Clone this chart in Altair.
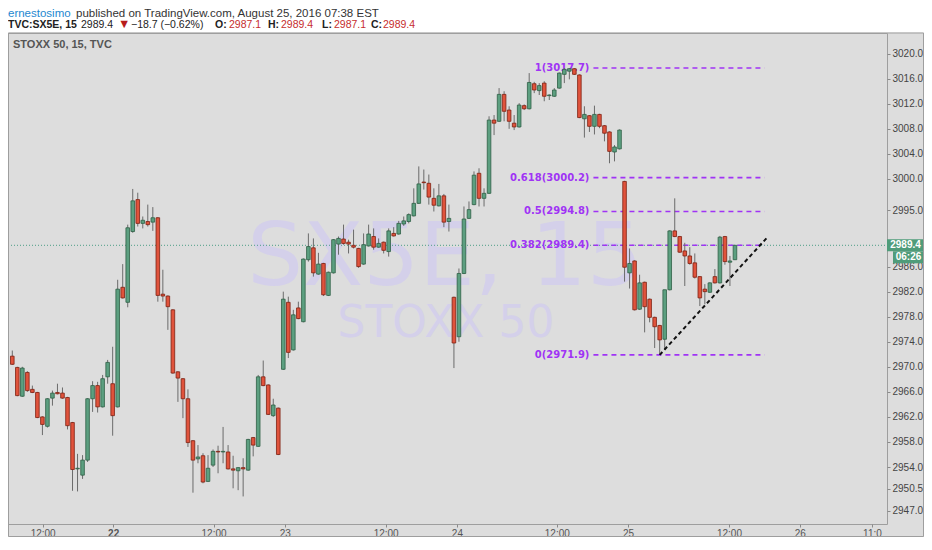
import altair as alt
import pandas as pd

# ---------------- data ----------------
opens = [
    2971.7, 2969.9, 2965.3, 2969.1, 2966.4, 2965.9, 2962.0, 2960.5, 2965.0, 2965.9,
    2965.8, 2965.1, 2961.1, 2953.7, 2952.7, 2955.1, 2964.9, 2967.0, 2963.6, 2968.4,
    2967.3, 2963.6, 2982.7, 2980.3, 2991.6, 2996.7, 2992.9, 2993.2, 2993.1, 2993.8,
    2981.6, 2981.3, 2979.1, 2969.2, 2968.1, 2964.9, 2958.2, 2955.3, 2955.8, 2951.7,
    2954.3, 2956.5, 2956.4, 2956.4, 2953.7, 2953.4, 2953.9, 2953.5, 2958.7, 2957.3,
    2968.4, 2967.1, 2962.2, 2963.4, 2969.6, 2980.3, 2972.7, 2979.4, 2977.2, 2987.1,
    2989.0, 2984.8, 2986.5, 2981.4, 2985.0, 2989.6, 2990.4, 2989.9, 2989.4, 2988.9,
    2986.4, 2989.3, 2990.8, 2989.1, 2989.9, 2988.4, 2991.3, 2991.2, 2992.8, 2993.2,
    2994.1, 2996.1, 2999.5, 2999.3, 2996.9, 2995.7, 2997.3, 2993.2, 2981.1, 2974.8,
    2984.9, 2993.7, 2995.9, 3000.9, 2996.9, 2997.7, 3009.4, 3009.2, 3013.5, 3011.0,
    3008.9, 3008.3, 3011.7, 3011.2, 3015.2, 3014.1, 3015.3, 3013.3, 3013.2, 3014.5,
    3016.7, 3017.2, 3017.6, 3016.6, 3009.6, 3010.1, 3008.4, 3010.3, 3008.5, 3007.5,
    3004.3, 3004.8, 2999.6, 2985.0, 2986.9, 2979.2, 2983.5, 2980.8, 2977.9, 2976.6,
    2974.4, 2982.3, 2991.7, 2990.8, 2988.5, 2987.7, 2986.6, 2984.4, 2982.4, 2981.9,
    2984.4, 2983.4, 2990.8, 2986.7, 2987.1]
highs = [
    2972.6, 2970.0, 2970.0, 2969.3, 2967.0, 2966.0, 2962.1, 2965.0, 2966.2, 2967.3,
    2966.7, 2965.2, 2961.2, 2956.1, 2955.9, 2965.0, 2967.7, 2967.6, 2968.7, 2971.1,
    2973.2, 2983.9, 2986.4, 2992.7, 2998.4, 2997.8, 2994.0, 2995.9, 2995.5, 2993.9,
    2985.5, 2981.4, 2979.2, 2969.3, 2968.2, 2966.4, 2958.3, 2957.5, 2956.2, 2955.9,
    2956.8, 2957.4, 2960.4, 2957.5, 2955.8, 2954.0, 2955.4, 2958.5, 2958.8, 2968.7,
    2971.0, 2967.2, 2964.9, 2963.5, 2982.0, 2981.2, 2979.1, 2980.4, 2987.3, 2991.3,
    2990.5, 2988.2, 2986.6, 2985.2, 2990.4, 2990.8, 2992.7, 2990.3, 2991.9, 2989.0,
    2991.3, 2992.7, 2992.1, 2990.5, 2990.0, 2992.1, 2992.3, 2993.3, 2994.0, 2994.5,
    2998.5, 3002.0, 3001.5, 3000.7, 2998.5, 2999.2, 2997.6, 2995.9, 2981.2, 2985.7,
    2995.6, 2996.4, 3001.2, 3001.7, 2998.5, 3010.0, 3010.2, 3014.5, 3014.0, 3011.6,
    3010.2, 3012.1, 3011.9, 3016.9, 3015.5, 3015.3, 3015.6, 3013.5, 3014.5, 3017.0,
    3017.7, 3017.7, 3017.7, 3016.7, 3011.6, 3010.2, 3011.7, 3010.4, 3008.6, 3007.6,
    3005.4, 3007.9, 2999.7, 2988.9, 2987.0, 2984.7, 2983.6, 2980.9, 2978.0, 2976.7,
    2982.3, 2991.8, 2996.9, 2990.9, 2989.8, 2989.1, 2988.1, 2984.5, 2983.2, 2983.5,
    2985.6, 2990.9, 2990.9, 2987.7, 2989.4]
lows = [
    2970.3, 2965.3, 2965.2, 2966.0, 2965.8, 2961.8, 2959.1, 2960.3, 2963.8, 2965.6,
    2964.9, 2960.0, 2950.2, 2950.1, 2952.1, 2954.8, 2962.8, 2962.7, 2963.5, 2967.3,
    2959.0, 2963.5, 2980.9, 2979.5, 2991.4, 2992.4, 2992.1, 2992.4, 2991.7, 2980.4,
    2980.4, 2975.9, 2968.9, 2964.4, 2961.8, 2957.2, 2949.9, 2954.6, 2951.4, 2951.6,
    2954.0, 2953.0, 2954.6, 2953.6, 2950.6, 2950.3, 2949.3, 2953.4, 2955.7, 2957.2,
    2966.9, 2962.3, 2962.0, 2955.9, 2969.5, 2971.4, 2972.6, 2977.6, 2977.1, 2986.8,
    2984.4, 2984.7, 2981.3, 2981.3, 2984.9, 2987.9, 2989.5, 2988.1, 2988.9, 2985.8,
    2986.3, 2989.2, 2988.7, 2989.0, 2988.1, 2987.6, 2990.8, 2991.1, 2992.5, 2992.9,
    2994.0, 2996.0, 2998.3, 2995.9, 2994.8, 2995.6, 2992.3, 2991.6, 2969.8, 2974.0,
    2984.8, 2993.6, 2995.8, 2995.6, 2995.6, 2997.6, 3007.0, 3009.1, 3009.2, 3008.0,
    3007.8, 3008.2, 3011.0, 3011.1, 3013.7, 3013.4, 3012.4, 3012.6, 3013.1, 3014.4,
    3015.3, 3015.9, 3016.6, 3009.7, 3006.6, 3007.5, 3007.1, 3008.1, 3006.0, 3002.5,
    3002.8, 3004.7, 2983.6, 2982.5, 2979.0, 2979.1, 2975.5, 2977.1, 2973.0, 2971.9,
    2972.7, 2982.2, 2990.7, 2988.2, 2982.9, 2986.3, 2984.1, 2979.7, 2980.0, 2981.8,
    2983.3, 2983.3, 2986.3, 2982.9, 2987.1]
closes = [
    2970.4, 2965.4, 2969.8, 2966.2, 2965.9, 2961.9, 2960.8, 2964.9, 2965.8, 2965.7,
    2965.0, 2960.6, 2953.6, 2953.8, 2955.1, 2964.9, 2967.0, 2963.6, 2968.1, 2970.7,
    2962.2, 2982.4, 2981.0, 2992.2, 2996.5, 2992.9, 2993.4, 2992.7, 2993.8, 2981.4,
    2981.3, 2979.6, 2969.0, 2968.2, 2964.9, 2957.9, 2955.1, 2955.6, 2951.6, 2953.8,
    2956.5, 2956.4, 2956.5, 2953.7, 2953.5, 2953.9, 2953.7, 2958.4, 2957.5, 2968.4,
    2967.0, 2962.4, 2963.9, 2956.0, 2980.8, 2972.3, 2978.3, 2977.7, 2987.2, 2989.2,
    2985.0, 2986.4, 2981.5, 2985.1, 2990.3, 2990.5, 2989.7, 2989.6, 2989.1, 2986.0,
    2989.5, 2991.2, 2989.1, 2989.7, 2988.6, 2991.7, 2990.9, 2992.9, 2993.3, 2994.3,
    2996.1, 2999.2, 2999.4, 2997.1, 2995.8, 2997.3, 2993.1, 2993.7, 2973.8, 2984.9,
    2993.6, 2995.1, 3000.6, 2996.9, 2997.7, 3009.4, 3008.9, 3013.5, 3010.8, 3009.2,
    3008.3, 3011.8, 3011.2, 3015.4, 3014.2, 3014.9, 3013.2, 3013.4, 3014.2, 3016.9,
    3017.5, 3017.6, 3016.7, 3009.8, 3010.3, 3008.4, 3010.3, 3008.4, 3007.3, 3004.4,
    3005.1, 3007.8, 2985.9, 2986.5, 2979.1, 2983.4, 2979.6, 2977.9, 2976.4, 2974.3,
    2982.3, 2991.7, 2990.8, 2988.3, 2987.7, 2986.5, 2984.3, 2981.0, 2982.0, 2983.4,
    2983.4, 2990.7, 2986.8, 2986.9, 2989.4]

# time-axis labels (positions in bar units)
x_tick_pos = [6.05, 20.1, 40.1, 54.3, 74.4, 88.6, 108.5, 122.7, 142.8, 156.9, 171.3]
x_tick_lab = ["12:00", "22", "12:00", "23", "12:00", "24", "12:00", "25", "12:00", "26", "11:0"]
week_start_pos = 20.1
y_ticks = [3020.0, 3016.0, 3012.0, 3008.0, 3004.0, 3000.0, 2995.0, 2986.0, 2982.0,
           2978.0, 2974.0, 2970.0, 2966.0, 2962.0, 2958.0, 2954.0, 2950.5, 2947.0]

fib_ratio = ["1", "0.618", "0.5", "0.382", "0"]
fib_price = [3017.7, 3000.2, 2994.8, 2989.4, 2971.9]
fib_start, fib_end = 115.8, 149.9

trend_idx = [129.0, 150.6]
trend_price = [2971.9, 2990.8]

last_price = 2989.4
last_time = "06:26"

# ---------------- frames ----------------
n = len(opens)
bars = pd.DataFrame({"i": list(range(n)), "o": opens, "h": highs, "l": lows, "c": closes})
fib = pd.DataFrame({"price": fib_price,
                    "label": [f"{r}({p:.1f})" for r, p in zip(fib_ratio, fib_price)]})
trend = pd.DataFrame({"i": trend_idx, "p": trend_price})
one = pd.DataFrame({"k": [0]})

W, H = 879, 491
AX = 37   # right axis strip
BOT = 13  # strip under the plot
UP, UP_EDGE = "#5c9f80", "#2f5f45"
DN, DN_EDGE = "#e0533c", "#7e2112"
FIB = "#a033f5"
MARK = "#d4d0ea"

xs = alt.Scale(domain=[0.14, 173.3], nice=False, zero=False)
ys = alt.Scale(domain=[2944.9, 3023.3], nice=False, zero=False)

label_expr = " : ".join(f"abs(datum.value - {v}) < 0.01 ? '{t}'" for v, t in zip(x_tick_pos, x_tick_lab)) + " : ''"
xax = alt.Axis(values=x_tick_pos, labelExpr=label_expr, title=None, grid=False, domain=False,
               tickSize=3, tickColor="#8a8a8a", labelColor="#555555", labelFontSize=10,
               labelFont="Liberation Sans", labelPadding=1, labelOverlap=False, labelFlush=False,
               labelFontWeight={"condition": {"test": f"abs(datum.value - {week_start_pos}) < 0.01",
                                              "value": "bold"},
                                "value": "normal"})
yax = alt.Axis(orient="right", values=y_ticks, format=".1f", title=None, grid=False, domain=False,
               tickSize=3, tickColor="#8a8a8a", labelColor="#444444", labelFontSize=10,
               labelFont="Liberation Sans", labelPadding=2, labelOverlap=False, labelFlush=False)


def X(field):
    return alt.X(field, type="quantitative", scale=xs, axis=xax)


def Y(field):
    return alt.Y(field, type="quantitative", scale=ys, axis=yax)


def deco_text(text, px, py, size, color, weight="normal", font="Liberation Sans",
              align="left", baseline="alphabetic"):
    return alt.Chart(one).mark_text(text=text, fontSize=size, color=color, fontWeight=weight,
                                    font=font, align=align, baseline=baseline).encode(
        x=alt.value(px), y=alt.value(py))


layers = []

# white header strip
layers.append(alt.Chart(one).mark_rect(color="#ffffff").encode(
    x=alt.value(0), x2=alt.value(W + AX), y=alt.value(-25), y2=alt.value(-0.5)))

# watermark
layers.append(deco_text("SX5E, 15", 437, 252, 88, MARK, font="DejaVu Sans", align="center"))
layers.append(deco_text("STOXX 50", 438, 304, 44, MARK, font="DejaVu Sans", align="center"))
layers.append(deco_text("STOXX 50, 15, TVC", 5, 12, 11, "#555555", weight="bold", baseline="middle"))

# last price dotted line
layers.append(alt.Chart(one).mark_rule(color="#4e9e86", strokeWidth=1, strokeDash=[1, 2]).encode(
    y=alt.YDatum(last_price, scale=ys, axis=yax), x=alt.value(0), x2=alt.value(W)))

# fibonacci levels
layers.append(alt.Chart(fib).mark_rule(color=FIB, strokeWidth=1.6, strokeDash=[5, 4]).encode(
    x=alt.XDatum(fib_start, scale=xs, axis=xax), x2=alt.X2Datum(fib_end), y=Y("price")))
layers.append(alt.Chart(fib).mark_text(align="right", dx=-4, font="DejaVu Sans", fontWeight="bold",
                                       fontSize=10, color=FIB, baseline="middle").encode(
    x=alt.XDatum(fib_start, scale=xs, axis=xax), y=Y("price"), text="label:N"))

# candles
cond = "datum.c >= datum.o"
layers.append(alt.Chart(bars).mark_rule(color="#6b6b6b", strokeWidth=1).encode(
    x=X("i"), y=Y("l"), y2="h:Q"))
layers.append(alt.Chart(bars).mark_bar(size=3.6, strokeWidth=0.8).encode(
    x=X("i"), y=Y("o"), y2="c:Q",
    fill=alt.condition(cond, alt.value(UP), alt.value(DN)),
    stroke=alt.condition(cond, alt.value(UP_EDGE), alt.value(DN_EDGE))))

# trend line
layers.append(alt.Chart(trend).mark_line(color="#111111", strokeWidth=2, strokeDash=[4, 3]).encode(
    x=X("i"), y=Y("p")))

# price / time boxes on the axis
layers.append(alt.Chart(one).mark_rect(color="#4f9c7a", yOffset=-6, y2Offset=6).encode(
    x=alt.value(W), x2=alt.value(W + AX), y=alt.YDatum(last_price, scale=ys, axis=yax),
    y2=alt.Y2Datum(last_price)))
layers.append(alt.Chart(one).mark_text(text=f"{last_price:.1f}", color="white", fontWeight="bold",
                                       fontSize=10, font="Liberation Sans", align="center",
                                       baseline="middle").encode(
    x=alt.value(W + 18.5), y=alt.YDatum(last_price, scale=ys, axis=yax)))
layers.append(alt.Chart(one).mark_rect(color="#4f9c7a", yOffset=6, y2Offset=18).encode(
    x=alt.value(W + 6), x2=alt.value(W + AX), y=alt.YDatum(last_price, scale=ys, axis=yax),
    y2=alt.Y2Datum(last_price)))
layers.append(alt.Chart(one).mark_text(text=last_time, color="white", fontWeight="bold",
                                       fontSize=10, font="Liberation Sans", align="center",
                                       baseline="middle", dy=12).encode(
    x=alt.value(W + 21.5), y=alt.YDatum(last_price, scale=ys, axis=yax)))

# outer frame
layers.append(alt.Chart(one).mark_rect(fillOpacity=0, stroke="#9e9e9e", strokeWidth=1).encode(
    x=alt.value(0.5), x2=alt.value(W + AX - 0.5), y=alt.value(0), y2=alt.value(H + BOT - 0.5)))

# header
RED = "#c62d2d"
INK = "#222222"
layers.append(deco_text("ernestosimo", 0, -16.5, 11.5, "#1e88d0"))
layers.append(deco_text("published on TradingView.com, August 25, 2016 07:38 EST", 68, -16.5, 11.5, "#333333"))
hdr2 = [
    ("TVC:SX5E, 15", 0, INK, "bold", 10.5),
    (f"{closes[-1]:.1f}", 73, INK, "normal", 10.5),
    ("\u25BC", 110, "#b71c1c", "normal", 12.5),
    ("\u221218.7 (\u22120.62%)", 123, INK, "normal", 10.5),
    ("O:", 207, INK, "bold", 10.5),
    (f"{opens[-1]:.1f}", 221, RED, "normal", 10.5),
    ("H:", 260, INK, "bold", 10.5),
    (f"{highs[-1]:.1f}", 273, RED, "normal", 10.5),
    ("L:", 314, INK, "bold", 10.5),
    (f"{lows[-1]:.1f}", 326, RED, "normal", 10.5),
    ("C:", 363, INK, "bold", 10.5),
    (f"{closes[-1]:.1f}", 375, RED, "normal", 10.5),
]
for txt, px, col, wt, sz in hdr2:
    layers.append(deco_text(txt, px, -5, sz, col, weight=wt))

chart = alt.layer(*layers).properties(
    width=W, height=H,
    autosize=alt.AutoSizeParams(type="none"),
    padding={"left": 0, "top": 25, "right": AX, "bottom": BOT},
).configure(background="#dddddd").configure_view(fill="#dddddd", stroke="#9e9e9e", strokeWidth=1)

chart.save("out.html", embed_options={"renderer": "svg", "actions": False})
